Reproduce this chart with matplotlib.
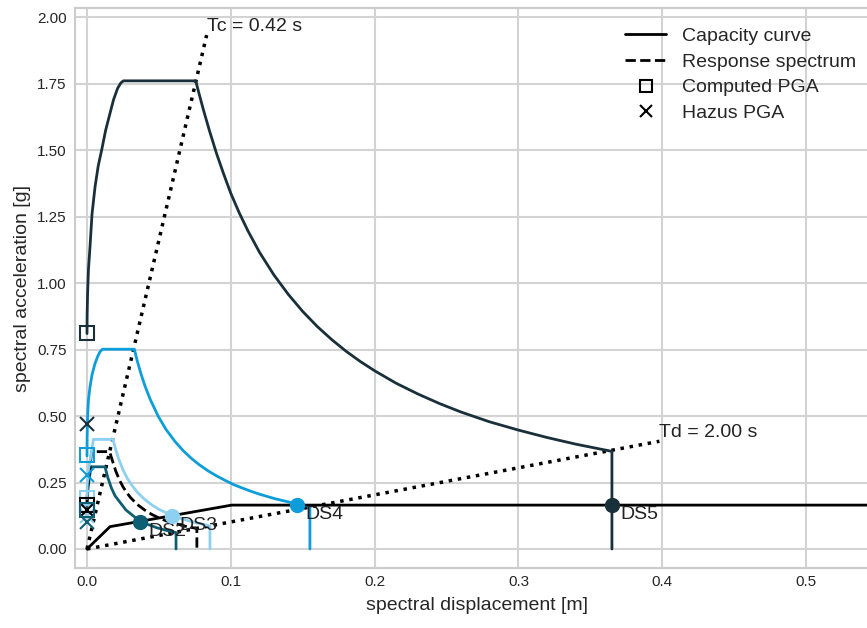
import matplotlib
matplotlib.use("Agg")
import matplotlib.pyplot as plt
from matplotlib.lines import Line2D
import seaborn as sns

# capacity curve
cap_sd = [0.0, 0.016, 0.1006, 0.56]
cap_sa = [0.0, 0.084, 0.165, 0.165]

# response spectra
ds5_sd = [0.0, 0.0001, 0.0004, 0.001, 0.0021, 0.0035, 0.0056, 0.0078, 0.0102, 0.013, 0.016, 0.0185,
          0.0213, 0.0235, 0.0253, 0.0756, 0.078, 0.081, 0.085, 0.09, 0.095, 0.1, 0.106, 0.112, 0.12,
          0.13, 0.14, 0.15, 0.16, 0.17, 0.18, 0.19, 0.2, 0.215, 0.23, 0.245, 0.26, 0.28, 0.3, 0.32,
          0.34, 0.365, 0.365]
ds5_sa = [0.81, 0.88, 0.96, 1.05, 1.137, 1.26, 1.362, 1.44, 1.5, 1.575, 1.638, 1.69,
          1.732, 1.752, 1.76, 1.76, 1.71, 1.65, 1.575, 1.488, 1.41, 1.337, 1.262, 1.195, 1.115,
          1.03, 0.957, 0.893, 0.837, 0.788, 0.744, 0.705, 0.67, 0.623, 0.583, 0.547, 0.515, 0.478, 0.447, 0.419,
          0.394, 0.367, 0.0]

ds4_sd = [0.0, 0.0001, 0.0004, 0.001, 0.0021, 0.0035, 0.0056, 0.0075, 0.009, 0.0107, 0.0329, 0.035,
          0.0375, 0.0403, 0.044, 0.0496, 0.055, 0.0612, 0.067, 0.0725, 0.078, 0.0844, 0.09, 0.096,
          0.102, 0.1076, 0.114, 0.12, 0.1307, 0.14, 0.1458, 0.155, 0.155]
ds4_sa = [0.35, 0.42, 0.497, 0.56, 0.61, 0.655, 0.698, 0.725, 0.741, 0.751, 0.751, 0.706,
          0.659, 0.613, 0.562, 0.498, 0.449, 0.404, 0.369, 0.341, 0.317, 0.293, 0.275, 0.258,
          0.242, 0.23, 0.217, 0.206, 0.189, 0.177, 0.17, 0.16, 0.0]

ds3_sd = [0.0, 0.0002, 0.0011, 0.0029, 0.0044, 0.0181, 0.02, 0.022, 0.025, 0.028, 0.031, 0.035, 0.04,
          0.045, 0.05, 0.0589, 0.065, 0.07, 0.077, 0.0855, 0.0855]
ds3_sa = [0.19, 0.245, 0.301, 0.356, 0.412, 0.412, 0.373, 0.339, 0.298, 0.266, 0.241, 0.213, 0.187,
          0.166, 0.149, 0.127, 0.115, 0.107, 0.097, 0.087, 0.0]

ref_sd = [0.0, 0.0002, 0.001, 0.0022, 0.0032, 0.0157, 0.0175, 0.02, 0.0225, 0.025, 0.0275, 0.03,
          0.035, 0.04, 0.045, 0.05, 0.055, 0.06, 0.068, 0.0764, 0.0764]
ref_sa = [0.165, 0.215, 0.265, 0.315, 0.366, 0.366, 0.335, 0.293, 0.26, 0.234, 0.213, 0.195,
          0.167, 0.147, 0.13, 0.117, 0.106, 0.098, 0.086, 0.077, 0.0]

ds2_sd = [0.0, 0.0002, 0.0008, 0.0018, 0.0028, 0.0125, 0.0145, 0.017, 0.0195, 0.0229, 0.027, 0.0334,
          0.0368, 0.042, 0.0485, 0.055, 0.0619, 0.0619]
ds2_sa = [0.147, 0.19, 0.232, 0.272, 0.309, 0.309, 0.268, 0.229, 0.2, 0.176, 0.147, 0.119,
          0.107, 0.093, 0.08, 0.07, 0.062, 0.0]

# computed / hazus PGA at Sd = 0
pga_computed = {"ds5": 0.813, "ds4": 0.353, "ds3": 0.193, "ref": 0.165, "ds2": 0.147}
pga_hazus = {"ds5": 0.469, "ds4": 0.28, "ds3": 0.125, "ref": 0.147, "ds2": 0.10}

# performance points
pp_names = ["DS2", "DS3", "DS4", "DS5"]
pp_sd = [0.0368, 0.0589, 0.146, 0.365]
pp_sa = [0.102, 0.123, 0.165, 0.165]

tc_line_sd = [0.0, 0.0832]
tc_line_sa = [0.0, 1.932]
td_line_sd = [0.0, 0.398]
td_line_sa = [0.0, 0.405]

colors = {"ds5": "#19303b", "ds4": "#0d9ddb", "ds3": "#8ed0f0", "ref": "black", "ds2": "#0e5f74"}

sns.set_style("whitegrid", {"grid.color": "#d3d3d3", "axes.edgecolor": "#cccccc"})
plt.rcParams["font.family"] = ["Liberation Sans", "DejaVu Sans"]
plt.rcParams["grid.linewidth"] = 1.5
plt.rcParams["axes.linewidth"] = 1.5

fig = plt.figure(figsize=(8.67, 6.28), dpi=100)
ax = fig.add_axes([75 / 867, 60 / 628, 803 / 867, 560 / 628])

ax.plot(tc_line_sd, tc_line_sa, ":", color="black", lw=2.5)
ax.plot(td_line_sd, td_line_sa, ":", color="black", lw=2.5)
ax.text(tc_line_sd[1], tc_line_sa[1], "Tc = 0.42 s", fontsize=14, ha="left", va="bottom", color="#222222")
ax.text(td_line_sd[1], td_line_sa[1], "Td = 2.00 s", fontsize=14, ha="left", va="bottom", color="#222222")

spectra = [("ds2", ds2_sd, ds2_sa, "-"), ("ref", ref_sd, ref_sa, "--"), ("ds3", ds3_sd, ds3_sa, "-"),
           ("ds4", ds4_sd, ds4_sa, "-"), ("ds5", ds5_sd, ds5_sa, "-")]
for key, sd, sa, ls in spectra:
    ax.plot(sd, sa, ls, color=colors[key], lw=2)

ax.plot(cap_sd, cap_sa, "-", color="black", lw=2)

for key in pga_computed:
    ax.plot(0, pga_computed[key], "s", ms=10, mfc="none", mec=colors[key], mew=1.5, zorder=5)
    ax.plot(0, pga_hazus[key], "x", ms=10, mec=colors[key], mew=1.5, zorder=5)

pp_colors = [colors["ds2"], colors["ds3"], colors["ds4"], colors["ds5"]]
for name, sd, sa, c in zip(pp_names, pp_sd, pp_sa, pp_colors):
    ax.plot(sd, sa, "o", color=c, ms=10, zorder=6)
    ax.annotate(name, (sd, sa), xytext=(8, -1), textcoords="offset pixels",
                fontsize=14, ha="left", va="top", color="#222222", zorder=5)

handles = [Line2D([], [], color="black", lw=2, ls="-"),
           Line2D([], [], color="black", lw=2, ls="--"),
           Line2D([], [], color="black", ls="none", marker="s", mfc="none", ms=9, mew=1.5),
           Line2D([], [], color="black", ls="none", marker="x", ms=9, mew=1.5)]
labels = ["Capacity curve", "Response spectrum", "Computed PGA", "Hazus PGA"]
ax.legend(handles, labels, loc="upper right", bbox_to_anchor=(0.994, 0.997), frameon=False,
          fontsize=14, handlelength=2.1, labelspacing=0.42)

ax.set_xlim(-12 / 1438, 0.55)
ax.set_ylim(-19 / 266, 541 / 266)
ax.set_xticks([0.0, 0.1, 0.2, 0.3, 0.4, 0.5])
ax.set_xticklabels(["0.0", "0.1", "0.2", "0.3", "0.4", "0.5"])
ax.set_yticks([0.0, 0.25, 0.5, 0.75, 1.0, 1.25, 1.5, 1.75, 2.0])
ax.set_yticklabels(["0.00", "0.25", "0.50", "0.75", "1.00", "1.25", "1.50", "1.75", "2.00"])
ax.tick_params(axis="x", labelsize=11, pad=1.5)
ax.tick_params(axis="y", labelsize=11, pad=2.5)
ax.set_xlabel("spectral displacement [m]", fontsize=14, labelpad=6)
ax.set_ylabel("spectral acceleration [g]", fontsize=14, labelpad=4)

fig.savefig("out.png", dpi=100)
